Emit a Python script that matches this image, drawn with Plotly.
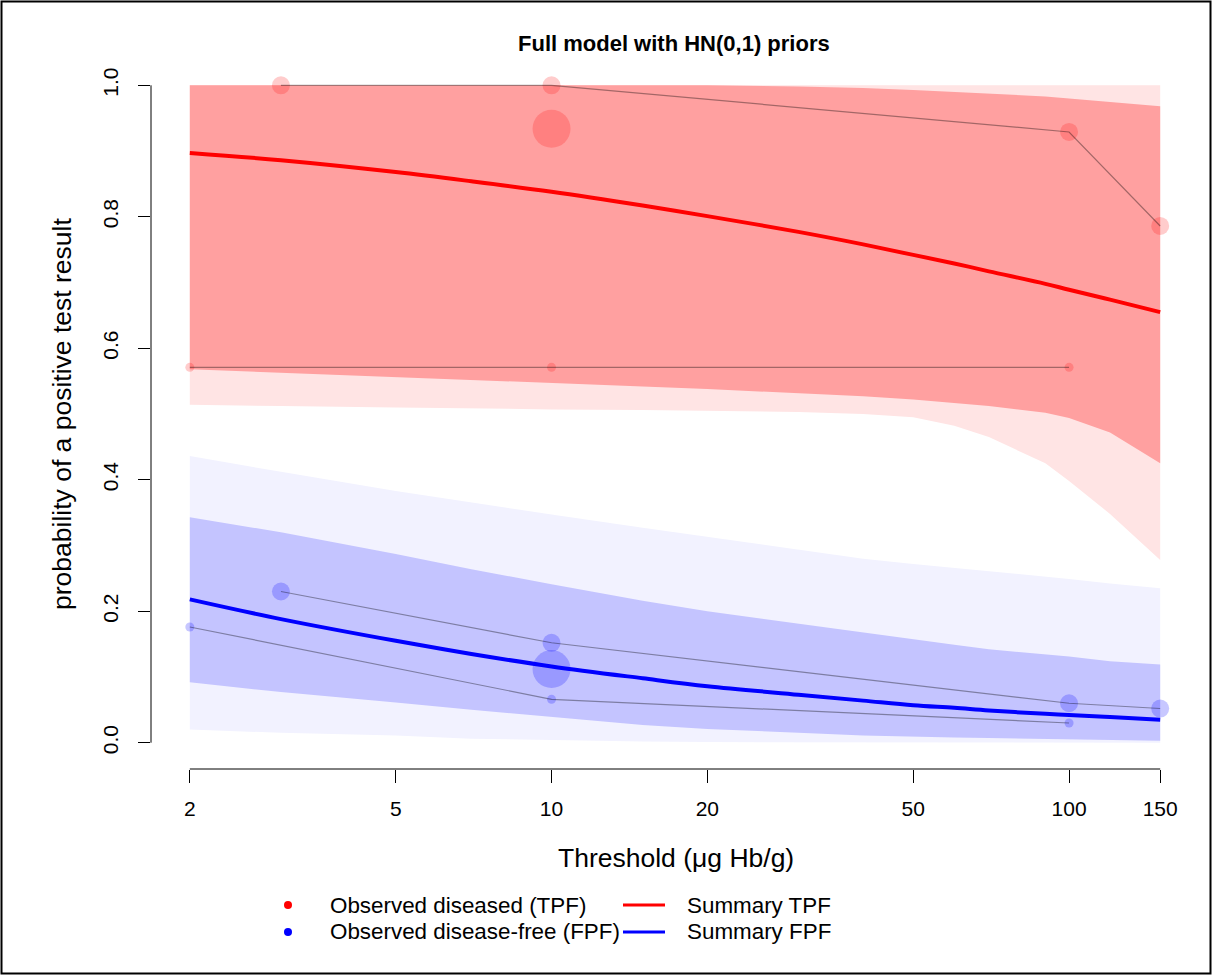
import math
import plotly.graph_objects as go

# Summary curves and interval bands over the threshold grid (ug Hb/g)
thresholds = [2, 3, 5, 7, 10, 15, 20, 30, 40, 50, 60, 70, 90, 100, 120, 150]

tpf_summary = [0.897, 0.886, 0.868, 0.854, 0.838, 0.817, 0.801, 0.777, 0.758, 0.742,
               0.729, 0.717, 0.698, 0.689, 0.674, 0.655]
tpf_ci_upper = [1.0, 1.0, 1.0, 1.0, 1.0, 1.0, 1.0, 0.998, 0.996, 0.993,
                0.990, 0.988, 0.983, 0.980, 0.975, 0.968]
tpf_ci_lower = [0.568, 0.562, 0.556, 0.552, 0.547, 0.542, 0.538, 0.532, 0.527, 0.522,
                0.517, 0.512, 0.502, 0.494, 0.472, 0.425]
tpf_pi_upper = [1.0, 1.0, 1.0, 1.0, 1.0, 1.0, 1.0, 1.0, 1.0, 1.0,
                1.0, 1.0, 1.0, 1.0, 1.0, 1.0]
tpf_pi_lower = [0.514, 0.512, 0.510, 0.508, 0.507, 0.506, 0.505, 0.503, 0.500, 0.495,
                0.482, 0.465, 0.425, 0.398, 0.348, 0.278]

fpf_summary = [0.218, 0.188, 0.155, 0.135, 0.116, 0.098, 0.086, 0.073, 0.064, 0.057,
               0.053, 0.049, 0.044, 0.042, 0.039, 0.035]
fpf_ci_upper = [0.343, 0.320, 0.287, 0.264, 0.241, 0.216, 0.200, 0.181, 0.167, 0.157,
                0.149, 0.142, 0.134, 0.131, 0.124, 0.119]
fpf_ci_lower = [0.092, 0.077, 0.061, 0.050, 0.039, 0.027, 0.021, 0.015, 0.011, 0.009,
                0.008, 0.007, 0.005, 0.0045, 0.004, 0.003]
fpf_pi_upper = [0.436, 0.412, 0.383, 0.365, 0.347, 0.327, 0.313, 0.293, 0.280, 0.272,
                0.266, 0.261, 0.252, 0.249, 0.242, 0.235]
fpf_pi_lower = [0.020, 0.015, 0.011, 0.006, 0.004, 0.002, 0.001, 0.0005, 0.0, 0.0,
                0.0, 0.0, 0.0, 0.0, 0.0, 0.0]

# Observed study data
study_a_thr = [3, 10, 100, 150]
study_a_tpf = [1.0, 1.0, 0.929, 0.786]
study_a_fpf = [0.230, 0.152, 0.060, 0.052]
study_b_thr = [2, 10, 100]
study_b_tpf = [0.571, 0.571, 0.571]
study_b_fpf = [0.176, 0.066, 0.030]
study_c_thr = [10]
study_c_tpf = [0.934]
study_c_fpf = [0.112]

x_tick_vals = [2, 5, 10, 20, 50, 100, 150]
x_tick_text = ["2", "5", "10", "20", "50", "100", "150"]
y_tick_vals = [0.0, 0.2, 0.4, 0.6, 0.8, 1.0]
y_tick_text = ["0.0", "0.2", "0.4", "0.6", "0.8", "1.0"]

FONT = "Liberation Sans, Arial, Helvetica, sans-serif"
W, H = 1212, 975
L, R, T, B = 151, 13, 59, 206
PW, PH = W - L - R, H - T - B


def px(x):
    return (x - L) / PW


def py(y):
    return (H - B - y) / PH


def band(x, lo, hi, color):
    return go.Scatter(x=list(x) + list(x)[::-1], y=list(hi) + list(lo)[::-1],
                      fill="toself", fillcolor=color, mode="lines",
                      line=dict(width=0), hoverinfo="skip", showlegend=False)


fig = go.Figure()
fig.add_trace(band(thresholds, tpf_pi_lower, tpf_pi_upper, "rgb(255,228,228)"))
fig.add_trace(band(thresholds, fpf_pi_lower, fpf_pi_upper, "rgb(242,242,255)"))
fig.add_trace(band(thresholds, tpf_ci_lower, tpf_ci_upper, "rgb(255,160,160)"))
fig.add_trace(band(thresholds, fpf_ci_lower, fpf_ci_upper, "rgb(196,196,255)"))

fig.add_trace(go.Scatter(x=thresholds, y=tpf_summary, mode="lines",
                         line=dict(color="#ff0000", width=4, shape="spline", smoothing=1.0),
                         showlegend=False))
fig.add_trace(go.Scatter(x=thresholds, y=fpf_summary, mode="lines",
                         line=dict(color="#0000ff", width=4, shape="spline", smoothing=1.0),
                         showlegend=False))

red_pt = "rgba(255,0,0,0.2)"
blue_pt = "rgba(0,0,255,0.22)"
for thr, vals, size, col in [
    (study_a_thr, study_a_tpf, 18, red_pt),
    (study_b_thr, study_b_tpf, 9, red_pt),
    (study_c_thr, study_c_tpf, 38, red_pt),
    (study_a_thr, study_a_fpf, 18, blue_pt),
    (study_b_thr, study_b_fpf, 9, blue_pt),
    (study_c_thr, study_c_fpf, 38, blue_pt),
]:
    fig.add_trace(go.Scatter(x=thr, y=vals, mode="markers",
                             marker=dict(size=size, color=col, line=dict(width=0)),
                             showlegend=False))

for thr, vals in [(study_a_thr, study_a_tpf), (study_b_thr, study_b_tpf),
                  (study_a_thr, study_a_fpf), (study_b_thr, study_b_fpf)]:
    fig.add_trace(go.Scatter(x=thr, y=vals, mode="lines",
                             line=dict(color="rgba(0,0,0,0.36)", width=1.2),
                             showlegend=False))

xr = [math.log10(2), math.log10(150)]
pad = 0.04 * (xr[1] - xr[0])

shapes = [
    # axis lines spanning the tick range only
    dict(type="line", xref="x", yref="paper", x0=2, x1=150, y0=0, y1=0,
         line=dict(color="black", width=1)),
    dict(type="line", xref="paper", yref="y", x0=0, x1=0, y0=0, y1=1,
         line=dict(color="black", width=1)),
    # outer frame
    dict(type="rect", xref="paper", yref="paper", x0=px(1.5), x1=px(1210.5),
         y0=py(973.5), y1=py(1.5), line=dict(color="black", width=2)),
    # legend keys
    dict(type="circle", xref="paper", yref="paper", x0=px(284), x1=px(292),
         y0=py(909), y1=py(901), fillcolor="#ff0000", line=dict(width=0)),
    dict(type="circle", xref="paper", yref="paper", x0=px(284), x1=px(292),
         y0=py(936), y1=py(928), fillcolor="#0000ff", line=dict(width=0)),
    dict(type="line", xref="paper", yref="paper", x0=px(623), x1=px(665),
         y0=py(905), y1=py(905), line=dict(color="#ff0000", width=3)),
    dict(type="line", xref="paper", yref="paper", x0=px(623), x1=px(665),
         y0=py(932), y1=py(932), line=dict(color="#0000ff", width=3)),
]

annotations = [
    dict(text="<b>Full model with HN(0,1) priors</b>", xref="paper", yref="paper",
         x=px(674), y=py(43), xanchor="center", yanchor="middle", showarrow=False,
         font=dict(size=22, family=FONT, color="black")),
    dict(text="Threshold (\u03bcg Hb/g)", xref="paper", yref="paper",
         x=px(676), y=py(858), xanchor="center", yanchor="middle", showarrow=False,
         font=dict(size=26.5, family=FONT, color="black")),
    dict(text="probability of a positive test result", xref="paper", yref="paper",
         x=px(62), y=py(414), xanchor="center", yanchor="middle", showarrow=False,
         textangle=-90, font=dict(size=26.5, family=FONT, color="black")),
]
legend_items = [
    ("Observed diseased (TPF)", 328, 905),
    ("Observed disease-free (FPF)", 328, 932),
    ("Summary TPF", 685, 905),
    ("Summary FPF", 685, 932),
]
for txt, lx, ly in legend_items:
    annotations.append(dict(text=txt, xref="paper", yref="paper", x=px(lx), y=py(ly),
                            xanchor="left", yanchor="middle", showarrow=False,
                            font=dict(size=22.4, family=FONT, color="black")))

fig.update_layout(
    width=W, height=H,
    margin=dict(l=L, r=R, t=T, b=B),
    paper_bgcolor="white", plot_bgcolor="white",
    font=dict(family=FONT, color="black"),
    showlegend=False,
    shapes=shapes,
    annotations=annotations,
    xaxis=dict(type="log", range=[xr[0] - pad, xr[1] + pad],
               tickvals=x_tick_vals, ticktext=x_tick_text,
               ticks="outside", ticklen=13, tickwidth=1, tickcolor="black",
               showgrid=False, zeroline=False, showline=False,
               tickfont=dict(size=21, family=FONT, color="black"),
               ticklabelstandoff=8),
    yaxis=dict(range=[-0.04, 1.04], tickvals=y_tick_vals, ticktext=y_tick_text,
               ticks="outside", ticklen=12, tickwidth=1, tickcolor="black",
               showgrid=False, zeroline=False, showline=False, tickangle=-90,
               tickfont=dict(size=21, family=FONT, color="black"),
               ticklabelstandoff=12),
)

fig.write_html("out.html")
